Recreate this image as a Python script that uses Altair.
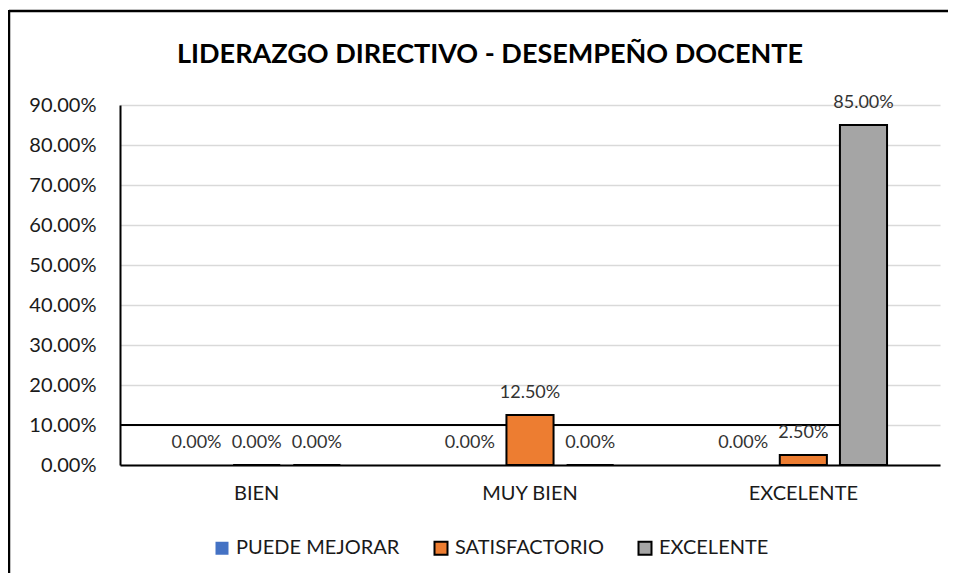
import altair as alt
import pandas as pd

categorias = ["BIEN", "MUY BIEN", "EXCELENTE"]
series = ["PUEDE MEJORAR", "SATISFACTORIO", "EXCELENTE"]
puede_mejorar = [0.0, 0.0, 0.0]
satisfactorio = [0.0, 0.125, 0.025]
excelente = [0.0, 0.0, 0.85]
y_ticks = [0.0, 0.1, 0.2, 0.3, 0.4, 0.5, 0.6, 0.7, 0.8, 0.9]
titulo = "LIDERAZGO DIRECTIVO - DESEMPEÑO DOCENTE"

rows = []
for serie, vals in zip(series, [puede_mejorar, satisfactorio, excelente]):
    for cat, v in zip(categorias, vals):
        rows.append({"categoria": cat, "serie": serie, "valor": v})
df = pd.DataFrame(rows)

FONT = "Lato"
colors = ["#4472C4", "#ED7D31", "#A5A5A5"]
strokes = ["transparent", "#000000", "#000000"]

x_enc = alt.X("categoria:N", sort=categorias,
              scale=alt.Scale(paddingInner=0.34, paddingOuter=0.17),
              axis=alt.Axis(title=None, labelAngle=0, labelFontSize=20, labelFont=FONT,
                            labelColor="#1a1a1a", ticks=False, domainColor="#000000",
                            domainWidth=2, labelPadding=18, zindex=1))
y_enc = alt.Y("valor:Q", scale=alt.Scale(domain=[0, 0.9]),
              axis=alt.Axis(title=None, format=".2%", values=y_ticks, labelFontSize=20,
                            labelFont=FONT, labelColor="#1a1a1a", ticks=False,
                            domainColor="#000000", domainWidth=2, labelPadding=24,
                            labelOverlap=False, grid=True,
                            gridColor="#d9d9d9", gridWidth=1.5))

base = alt.Chart(df).encode(
    x=x_enc,
    xOffset=alt.XOffset("serie:N", sort=series,
                        scale=alt.Scale(paddingInner=0.217, paddingOuter=0.108)),
    y=y_enc,
)

legend = alt.Legend(title=None, orient="none", legendX=92, legendY=433,
                    direction="horizontal", symbolType="square", symbolSize=169,
                    symbolStrokeWidth=2, labelFontSize=20, labelFont=FONT,
                    labelColor="#1a1a1a", columnPadding=30, labelOffset=4,
                    labelLimit=400)

bars = base.mark_bar(strokeWidth=2).encode(
    color=alt.Color("serie:N", sort=series,
                    scale=alt.Scale(domain=series, range=colors), legend=legend),
    stroke=alt.Stroke("serie:N", sort=series,
                      scale=alt.Scale(domain=series, range=strokes), legend=legend),
)

labels = base.mark_text(dy=-22, fontSize=18, font=FONT, color="#333333").encode(
    text=alt.Text("valor:Q", format=".2%")
)

# black line at the 10% level (as drawn in the original chart)
rule10 = alt.Chart(df).transform_filter(
    alt.datum.categoria == "BIEN"
).transform_filter(
    alt.datum.serie == "PUEDE MEJORAR"
).transform_calculate(valor="0.1").mark_rule(
    color="#000000", strokeWidth=2
).encode(y=y_enc, x=alt.value(0), x2=alt.value(720))

one = alt.Data(values=[{}])
frame_top = alt.Chart(one).mark_rule(color="#000000", strokeWidth=2.5).encode(
    x=alt.value(-111), x2=alt.value(1200), y=alt.value(-94)
)
frame_left = alt.Chart(one).mark_rule(color="#000000", strokeWidth=2.5).encode(
    x=alt.value(-111), y=alt.value(-95), y2=alt.value(700)
)
title = alt.Chart(one).mark_text(
    font=FONT, fontSize=27, fontWeight="bold", color="#000000",
    align="center", baseline="alphabetic"
).encode(x=alt.value(370), y=alt.value(-42), text=alt.value(titulo))

chart = alt.layer(rule10, bars, labels, frame_top, frame_left, title).properties(
    width=820, height=360,
    autosize=alt.AutoSizeParams(type="none"),
    padding={"left": 112, "top": 97, "right": 8, "bottom": 108},
).configure_view(stroke=None)

chart.save("out.html", embed_options={"renderer": "svg", "actions": False})
